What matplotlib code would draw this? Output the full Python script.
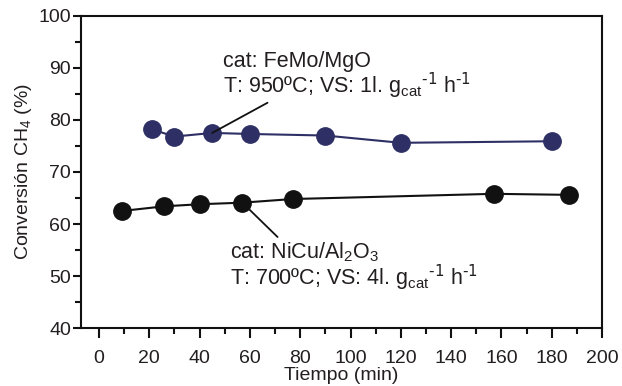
import matplotlib
matplotlib.use("Agg")
import matplotlib.pyplot as plt
from matplotlib.ticker import MultipleLocator

# FeMo/MgO series (blue)
t_femo = [21, 30, 45, 60, 90, 120, 180]
conv_femo = [78.2, 76.8, 77.5, 77.3, 77.0, 75.6, 75.9]

# NiCu/Al2O3 series (black)
t_nicu = [9, 26, 40, 57, 77, 157, 187]
conv_nicu = [62.5, 63.4, 63.8, 64.1, 64.8, 65.8, 65.6]

txt_femo = ["cat: FeMo/MgO",
            r"T: 950ºC; VS: 1l. g$_{cat}$$^{\text{-1}}$ h$^{\text{-1}}$"]
txt_nicu = ["cat: NiCu/Al$_{2}$O$_{3}$",
            r"T: 700ºC; VS: 4l. g$_{cat}$$^{\text{-1}}$ h$^{\text{-1}}$"]

plt.rcParams['font.family'] = ['Liberation Sans', 'DejaVu Sans']
plt.rcParams['mathtext.default'] = 'regular'

txtcol = '#231f20'
blue = '#2e3065'
black = '#111111'

fig = plt.figure(figsize=(6.22, 3.86), dpi=100)
ax = fig.add_axes([0.130, 0.150, 0.838, 0.809])

ax.plot(t_femo, conv_femo, '-o', color=blue, lw=1.5, ms=12.5, zorder=3)
ax.plot(t_nicu, conv_nicu, '-o', color=black, lw=1.5, ms=12.5, zorder=3)

ax.set_xlim(-7.2, 200)
ax.set_ylim(40, 100)
ax.xaxis.set_major_locator(MultipleLocator(20))
ax.xaxis.set_minor_locator(MultipleLocator(10))
ax.yaxis.set_major_locator(MultipleLocator(10))
ax.yaxis.set_minor_locator(MultipleLocator(5))

ax.tick_params(axis='both', which='both', direction='out', width=1.5,
               colors='#111111', labelcolor=txtcol, labelsize=14)
ax.tick_params(axis='x', which='major', length=7, pad=9)
ax.tick_params(axis='x', which='minor', length=4.5)
ax.tick_params(axis='y', which='major', length=6, pad=1)
ax.tick_params(axis='y', which='minor', length=4)
for s in ax.spines.values():
    s.set_linewidth(1.5)
    s.set_color('#111111')

ax.set_xlabel('Tiempo (min)', fontsize=14, color=txtcol, labelpad=0)
ax.set_ylabel('Conversión CH$_{4}$ (%)', fontsize=14, color=txtcol, labelpad=3)

# leader lines
ax.annotate('', xy=(t_femo[2], conv_femo[2]), xytext=(67, 83.3),
            arrowprops=dict(arrowstyle='-', lw=1.3, color='#111111',
                            shrinkA=0, shrinkB=0))
ax.annotate('', xy=(t_nicu[3], conv_nicu[3]), xytext=(71, 57.5),
            arrowprops=dict(arrowstyle='-', lw=1.3, color='#111111',
                            shrinkA=0, shrinkB=0))

ax.text(49.3, 91.3, txt_femo[0], fontsize=15.5, color=txtcol, va='center')
ax.text(49.3, 86.6, txt_femo[1], fontsize=15.5, color=txtcol, va='center')
ax.text(52, 54.5, txt_nicu[0], fontsize=15.5, color=txtcol, va='center')
ax.text(52, 49.7, txt_nicu[1], fontsize=15.5, color=txtcol, va='center')

fig.savefig('out.png', dpi=100)
